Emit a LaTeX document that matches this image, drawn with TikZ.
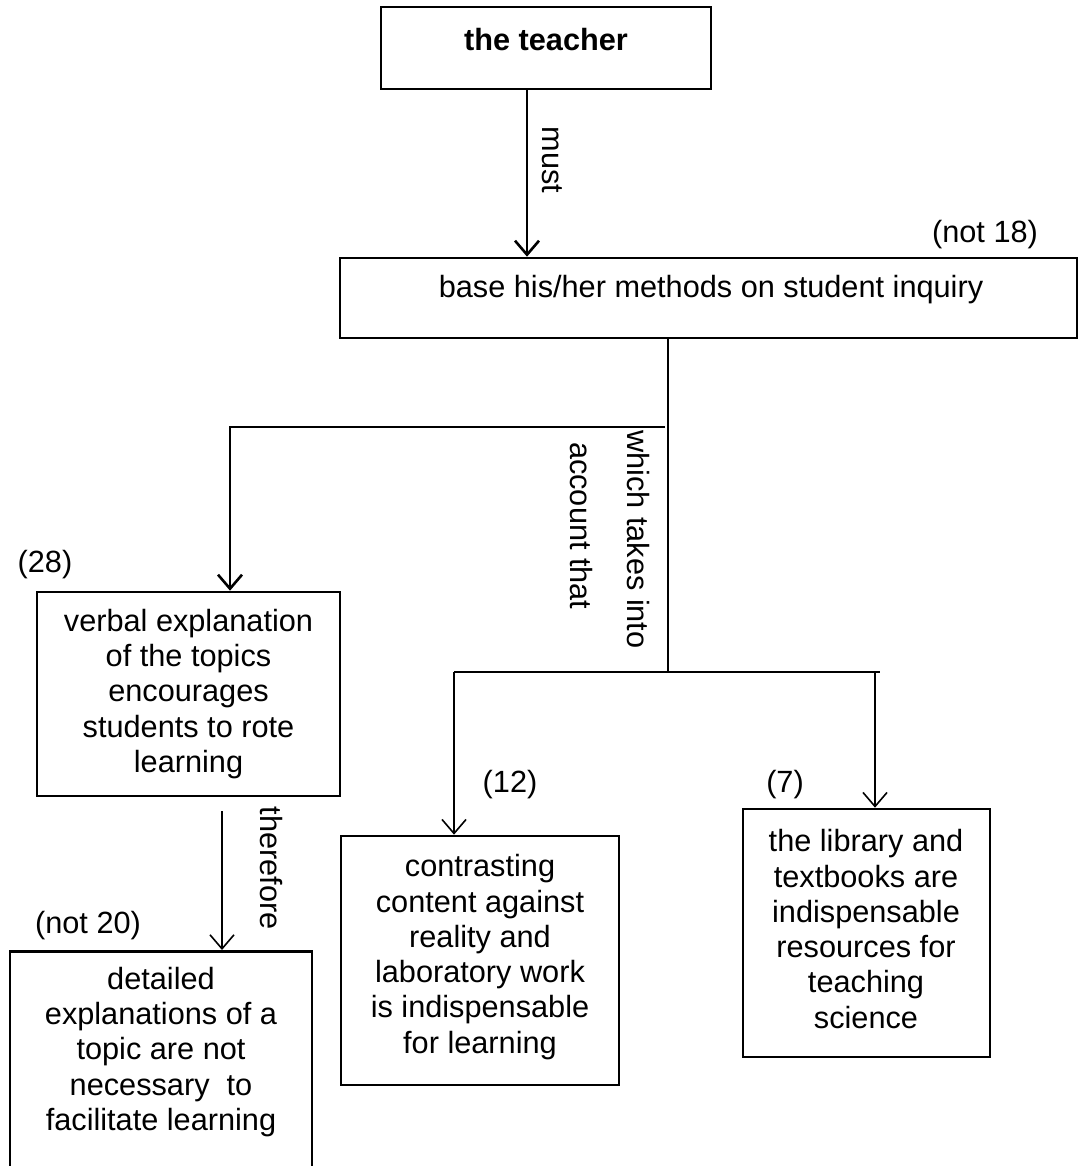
\documentclass[tikz,border=0pt]{standalone}
\usepackage{fontspec}
\setmainfont{Liberation Sans}
\usetikzlibrary{arrows.meta}
\tikzset{
  box/.style={draw, line width=2.6pt, inner sep=0pt},
  txt/.style={align=center, inner sep=0pt, font=\fontsize{30.7}{35.3}\selectfont},
  lbl/.style={inner sep=0pt, font=\fontsize{30.7}{35}\selectfont},
  thickln/.style={line width=2.6pt},
  thinln/.style={line width=1.6pt},
  arr/.style={-{Straight Barb[length=14pt,width=24pt]}},
}
\begin{document}
\begin{tikzpicture}[x=1pt,y=-1pt]
\clip (0,0) rectangle (1079,1166);
\fill[white] (0,0) rectangle (1079,1166);

% boxes
\node[box, minimum width=330, minimum height=82] (teacher) at (546,48) {};
\node[box, minimum width=737, minimum height=80] (base) at (708.5,298) {};
\node[box, minimum width=303, minimum height=204] (verbal) at (188.5,694) {};
\node[box, minimum width=302, minimum height=236, anchor=north] (detail) at (161,950) {};
\node[box, minimum width=278, minimum height=249] (contrast) at (480,960.5) {};
\node[box, minimum width=247, minimum height=248] (library) at (866.5,933) {};

% texts
\node[txt, font=\fontsize{30.7}{35}\selectfont\bfseries] (teacherT) at (546,40) {the teacher};
\node[txt] (baseT) at (711,290) {base his/her methods on student inquiry};
\node[txt] (verbalT) at (188.5,694) {verbal explanation\\of the topics\\encourages\\students to rote\\learning};
\node[txt] (detailT) at (161,1052) {detailed\\explanations of a\\topic are not\\necessary\ \ to\\facilitate learning};
\node[txt] (contrastT) at (480,957) {contrasting\\content against\\reality and\\laboratory work\\is indispensable\\for learning};
\node[txt] (libraryT) at (866,929) {the library and\\textbooks are\\indispensable\\resources for\\teaching\\science};

% side labels
\node[lbl] (n18) at (985,235) {(not 18)};
\node[lbl] (n28) at (45,565) {(28)};
\node[lbl] (n20) at (88,926) {(not 20)};
\node[lbl] (n12) at (510,785) {(12)};
\node[lbl] (n7) at (785,785) {(7)};

% junctions
\coordinate (j1) at (668,427);
\coordinate (j2) at (668,672);
\coordinate (j3) at (880,672);

% connectors
\draw[thickln, arr] ([xshift=-19pt]teacher.south) -- ([xshift=-19pt]teacher.south |- base.north)
  node[pos=0.42, xshift=25pt, rotate=-90, lbl] (must) {must};
\draw[thickln] (base.south -| j1) -- (j2);
\draw[thickln, arr] ([xshift=-3pt]j1) -| ([xshift=41.5pt]verbal.north);
\draw[thinln] ([xshift=-26pt]contrast.north |- j2) -- (j3);
\draw[thinln, arr] ([xshift=-26pt]contrast.north |- j2) -- ([xshift=-26pt]contrast.north);
\draw[thinln, arr] ([xshift=8.5pt]library.north |- j2) -- ([xshift=8.5pt]library.north);
\draw[thinln, arr] ([shift={(33.5pt,-14pt)}]verbal.south) -- ([xshift=61pt]detail.north);

\node[lbl, rotate=-90, align=left, anchor=north west, font=\fontsize{30.7}{57}\selectfont] (which) at (650,430)
  {which takes into\\\hspace*{12pt}account that};
\node[lbl, rotate=-90] (therefore) at (271,868) {therefore};
\end{tikzpicture}
\end{document}
